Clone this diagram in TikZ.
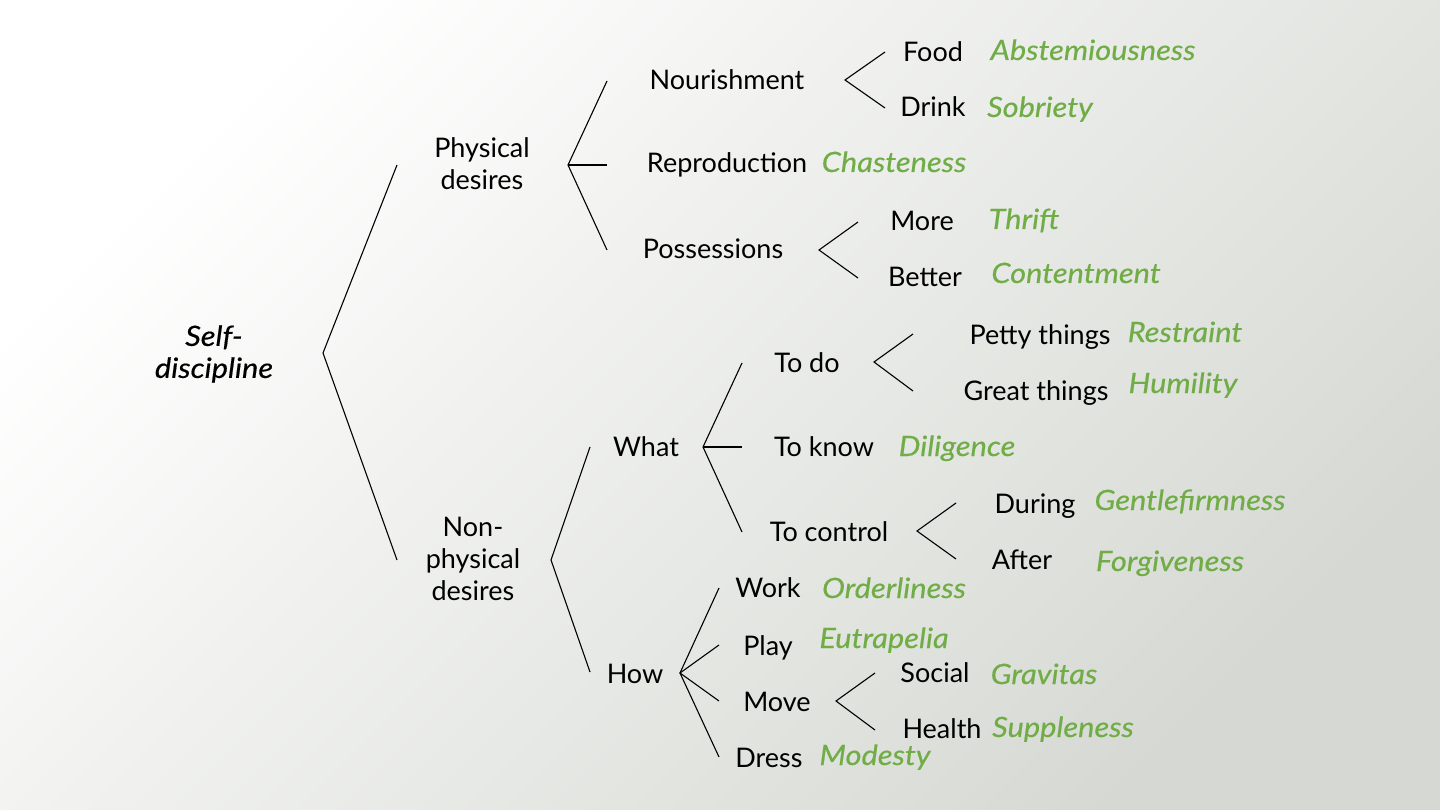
\documentclass[tikz,border=0pt]{standalone}
\usepackage{fontspec}
\setmainfont{Lato}
\newfontfamily\virtfont{Lato}[FakeStretch=1.1, FakeBold=0.4]
\usepackage{tikz}

\definecolor{virtgreen}{RGB}{112,173,71}
\definecolor{bggray}{RGB}{214,217,211}

\begin{document}
\begin{tikzpicture}[
x=1pt, y=-1pt,
every node/.style={font=\fontsize{27}{32}\selectfont, inner sep=0pt},
term/.style={anchor=base, text=black},
virtue/.style={anchor=base, text=virtgreen, font=\fontsize{28}{32}\selectfont\virtfont\itshape},
group/.style={align=center, text=black},
branch/.style={line width=1.1pt, black}
]

\useasboundingbox (0,0) rectangle (1440,810);
\shade[top color=white, bottom color=bggray, shading angle=45] (0,0) rectangle (1440,810);

% main split
\node[group, font=\fontsize{28}{32}\selectfont\virtfont\itshape] (self) at (214,354) {Self-\\discipline};
\node[group] (phys) at (482,164) {Physical\\desires};
\node[group] (nonphys) at (473,559) {Non-\\physical\\desires};

% physical desires
\node[term] (nour) at (727,90) {Nourishment};
\node[term] (repro) at (727,173) {Reproduction};
\node[term] (poss) at (713,259) {Possessions};
\node[term] (food) at (933,62) {Food};
\node[term] (drink) at (933,117) {Drink};
\node[term] (more) at (922,231) {More};
\node[term] (better) at (925,287) {Better};
\node[virtue] (abst) at (1093,60) {Abstemiousness};
\node[virtue] (sobr) at (1040,117) {Sobriety};
\node[virtue] (chast) at (894,172) {Chasteness};
\node[virtue] (thrift) at (1024,229) {Thrift};
\node[virtue] (content) at (1076,283) {Contentment};

% non-physical desires
\node[term] (what) at (646,456) {What};
\node[term] (todo) at (807,372) {To do};
\node[term] (toknow) at (824,456) {To know};
\node[term] (toctrl) at (829,541) {To control};
\node[term] (petty) at (1040,344) {Petty things};
\node[term] (great) at (1036,400) {Great things};
\node[term] (during) at (1035,513) {During};
\node[term] (after) at (1022,569) {After};
\node[virtue] (restr) at (1185,342) {Restraint};
\node[virtue] (humil) at (1183,393) {Humility};
\node[virtue] (dilig) at (957,456) {Diligence};
\node[virtue] (gentle) at (1190,510) {Gentlefirmness};
\node[virtue] (forgive) at (1170,571) {Forgiveness};

\node[term] (how) at (635,683) {How};
\node[term] (work) at (768,597) {Work};
\node[term] (play) at (768,655) {Play};
\node[term] (move) at (777,711) {Move};
\node[term] (dress) at (769,767) {Dress};
\node[term] (social) at (935,682) {Social};
\node[term] (health) at (942,738) {Health};
\node[virtue] (order) at (894,598) {Orderliness};
\node[virtue] (eutra) at (884,648) {Eutrapelia};
\node[virtue] (modest) at (875,765) {Modesty};
\node[virtue] (grav) at (1044,684) {Gravitas};
\node[virtue] (supple) at (1063,737) {Suppleness};

% fork points
\coordinate (rootfork) at (323,353);
\coordinate (rootup) at (397,165);
\coordinate (rootdn) at (397,560);
\coordinate (physfork) at (568,165);
\coordinate (physup) at (607,81);
\coordinate (physmid) at (607,165);
\coordinate (physdn) at (607,250);
\coordinate (nourfork) at (845,80);
\coordinate (nourup) at (885,52);
\coordinate (nourdn) at (885,108);
\coordinate (possfork) at (819,250);
\coordinate (possup) at (858,222);
\coordinate (possdn) at (858,278);
\coordinate (nonfork) at (551,560);
\coordinate (nonup) at (590,447);
\coordinate (nondn) at (590,672);
\coordinate (whatfork) at (703,447);
\coordinate (whatup) at (742,363);
\coordinate (whatmid) at (742,447);
\coordinate (whatdn) at (742,532);
\coordinate (todofork) at (874,362);
\coordinate (todoup) at (913,334);
\coordinate (tododn) at (913,391);
\coordinate (ctrlfork) at (917,531);
\coordinate (ctrlup) at (956,503);
\coordinate (ctrldn) at (956,559);
\coordinate (howfork) at (680,673);
\coordinate (howa) at (719,588);
\coordinate (howb) at (719,645);
\coordinate (howc) at (719,701);
\coordinate (howd) at (719,757);
\coordinate (movefork) at (836,701);
\coordinate (moveup) at (875,673);
\coordinate (movedn) at (875,730);

\draw[branch] (rootup) -- (rootfork) -- (rootdn);
\draw[branch] (physup) -- (physfork) -- (physdn);
\draw[branch] (physfork) -- (physmid);
\draw[branch] (nourup) -- (nourfork) -- (nourdn);
\draw[branch] (possup) -- (possfork) -- (possdn);
\draw[branch] (nonup) -- (nonfork) -- (nondn);
\draw[branch] (whatup) -- (whatfork) -- (whatdn);
\draw[branch] (whatfork) -- (whatmid);
\draw[branch] (todoup) -- (todofork) -- (tododn);
\draw[branch] (ctrlup) -- (ctrlfork) -- (ctrldn);
\draw[branch] (howa) -- (howfork) -- (howd);
\draw[branch] (howb) -- (howfork) -- (howc);
\draw[branch] (moveup) -- (movefork) -- (movedn);
\end{tikzpicture}
\end{document}
